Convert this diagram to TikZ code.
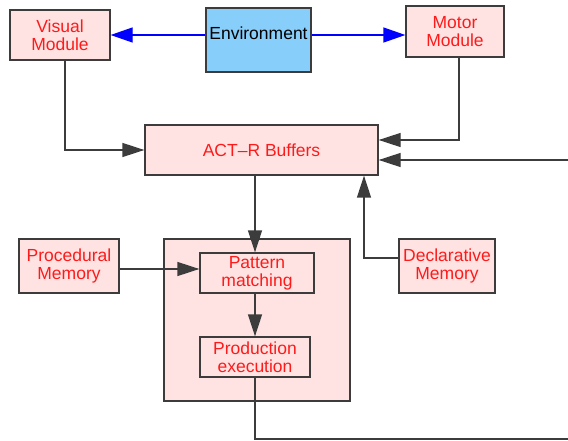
\documentclass[tikz,border=0pt]{standalone}
\usepackage{fontspec}
\setmainfont{Liberation Sans}
\usetikzlibrary{arrows.meta}
\definecolor{boxpink}{HTML}{FFE3E3}
\definecolor{envblue}{HTML}{87CEFA}
\definecolor{edge}{HTML}{3C3C3C}
\definecolor{labelred}{HTML}{FF1A1A}
\tikzset{
  box/.style={draw=edge, fill=boxpink, line width=1.3pt, inner sep=0pt, align=center,
    text=labelred, font=\fontsize{17.5}{18}\selectfont},
  arr/.style={draw=edge, line width=1.3pt, -{Triangle[length=22pt,width=14pt]}},
  barr/.style={draw=blue, line width=1.3pt, -{Triangle[length=22pt,width=15pt]}}
}
\begin{document}
\begin{tikzpicture}[x=1pt, y=-1pt]
\clip (0,0) rectangle (568,441);

\node (vis) [box, minimum width=100pt, minimum height=50pt] at (60,35) {Visual\\Module};
\node (env) [box, fill=envblue, text=black, minimum width=105pt, minimum height=64pt,
  text depth=14pt] at (258.5,40) {Environment};
\node (mot) [box, minimum width=98pt, minimum height=51pt] at (455,31.5) {Motor\\Module};
\node (buf) [box, minimum width=233pt, minimum height=50pt] at (261.5,150) {ACT{\textendash}R Buffers};
\node (proc) [box, minimum width=100pt, minimum height=54pt] at (69,266) {Procedural\\Memory};
\node (core) [box, minimum width=186pt, minimum height=162pt] at (257,320) {};
\node (pat) [box, minimum width=114pt, minimum height=40pt] at (257,273) {Pattern\\matching};
\node (prod) [box, minimum width=110pt, minimum height=40pt] at (255,357) {Production\\execution};
\node (decl) [box, minimum width=96pt, minimum height=54pt] at (447,266) {Declarative\\Memory};

\coordinate (lb) at (255,439);
\coordinate (rb) at (600,439);

\draw[barr] (env.west |- vis.east) to (vis.east);
\draw[barr] (env.east |- vis.east) to (mot.west |- vis.east);
\draw[arr] ([xshift=5pt]vis.south) |- (buf.west);
\draw[arr] ([xshift=4pt]mot.south) |- ([yshift=10pt]buf.east);
\draw[arr] (prod.south) -- (lb) -- (rb) |- ([yshift=-10pt]buf.east);
\draw[arr] (buf.south -| prod) to (pat.north -| prod);
\draw[arr] ([yshift=-3pt]proc.east) to ([yshift=-3pt]proc.east -| pat.west);
\draw[arr] ([yshift=8pt]decl.west) -| ([xshift=102.5pt]buf.south);
\draw[arr] (pat.south -| prod) to (prod.north);
\end{tikzpicture}
\end{document}
